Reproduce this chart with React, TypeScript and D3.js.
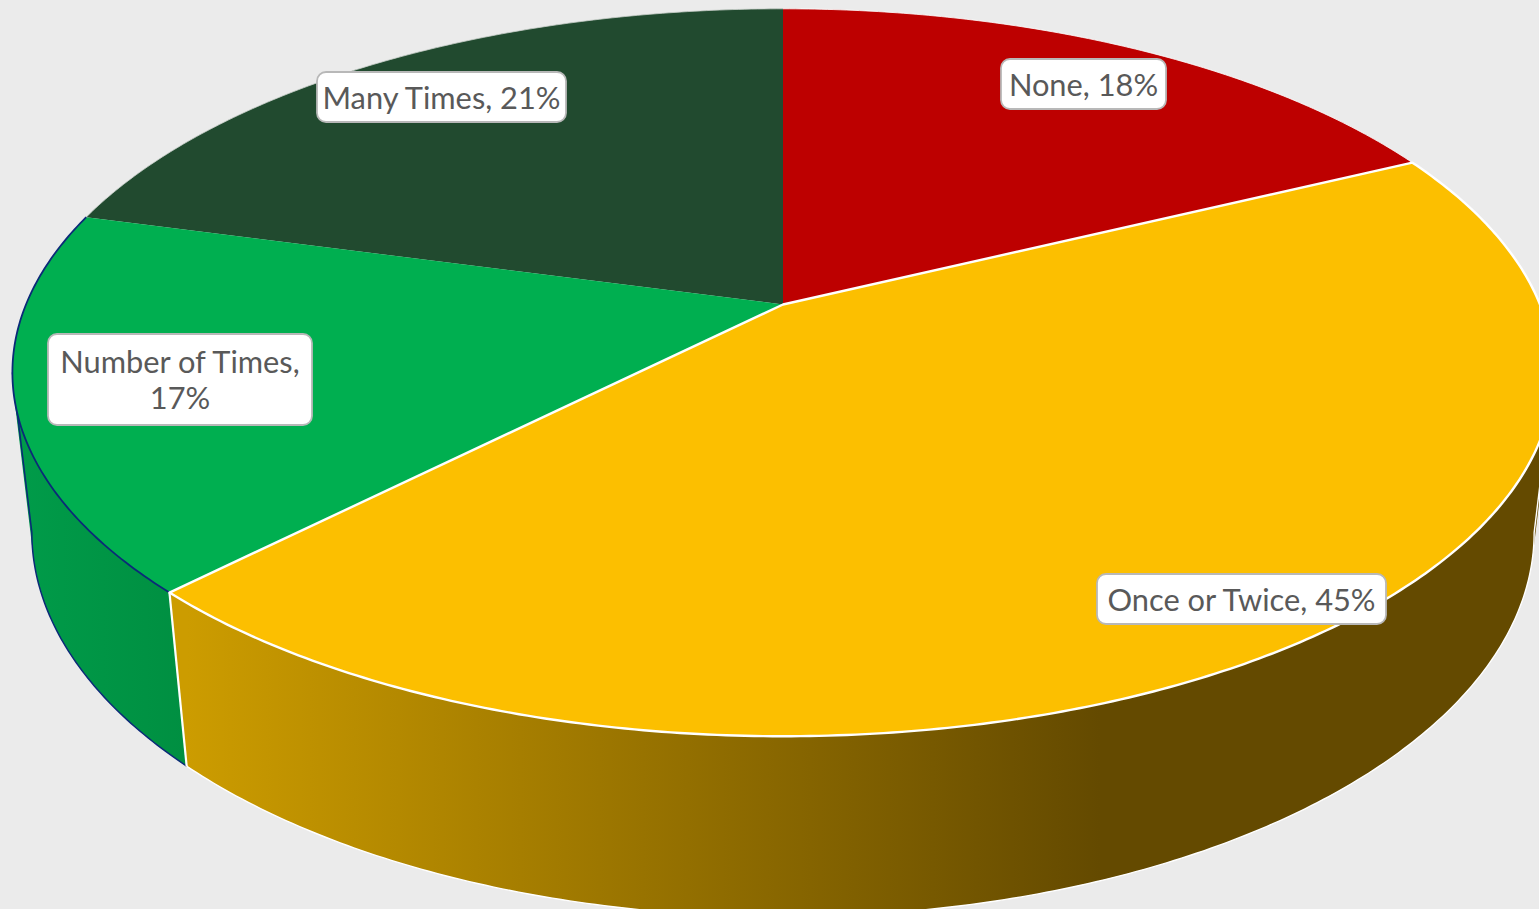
import React from 'react';
import * as d3 from 'd3';

const categories = ['None', 'Once or Twice', 'Number of Times', 'Many Times'];
const shares = [17.8, 44.6, 16.8, 20.8];
const wrappedCategories = ['Number of Times'];

const faceColors = ['#bd0000', '#fcbf00', '#00af50', '#214a2f'];
const rimColors = ['#ffffff', '#ffffff', '#0b2a78', '#c9cfca'];

const WIDTH = 1539;
const HEIGHT = 909;

// perspective of the disc, fitted to the rim
const CX = 783;
const CY = 304.5;
const SCALE_X = 757;
const SCALE_Y = 351;
const TILT = 0.187;
const DEPTH_W = 0.025;
const DEPTH_Y = 162;

const FONT = 'Lato, "Open Sans", sans-serif';

// label boxes [left, top, right, bottom]
const labelBoxes = [
  [1001, 59, 1166, 109],
  [1097, 574, 1386, 624],
  [48, 334, 312, 425],
  [317, 72, 566, 122],
];

const project = (theta: number, z: number): [number, number] => {
  const u = Math.sin(theta);
  const v = Math.cos(theta);
  const w = 1 + TILT * v + DEPTH_W * z;
  return [CX + (SCALE_X * u) / w, CY - (SCALE_Y * v - DEPTH_Y * z) / w];
};

const sweep = (from: number, to: number) => {
  const steps = Math.max(2, Math.ceil(Math.abs(to - from) / 0.01));
  return d3.range(steps + 1).map(i => from + ((to - from) * i) / steps);
};

const line = d3.line();

const arcPoints = (from: number, to: number, z: number) => sweep(from, to).map(t => project(t, z));

// union of small quads, all wound the same way, so the silhouette fills properly
const wallPath = (from: number, to: number) => {
  const angles = sweep(from, to);
  return d3.pairs(angles).map(([a, b]) => {
    const quad = [project(a, 0), project(b, 0), project(b, 1), project(a, 1)] as [number, number][];
    if (d3.polygonArea(quad) < 0) quad.reverse();
    return line(quad) + 'Z';
  }).join('');
};

const extremeAngle = (z: number) => Math.acos(-TILT / (1 + DEPTH_W * z));

const PieLabel: React.FC<{ index: number; lines: string[] }> = ({ index, lines }) => {
  const [x0, y0, x1, y1] = labelBoxes[index];
  const cx = (x0 + x1) / 2;
  const cy = (y0 + y1) / 2;
  return (
    <g>
      <rect x={x0} y={y0} width={x1 - x0} height={y1 - y0} rx={9} fill="#ffffff" stroke="#b8b8b8" strokeWidth={1.8} />
      {lines.map((l, i) => (
        <text
          key={l}
          x={cx}
          y={cy + 1 + (i - (lines.length - 1) / 2) * 36}
          dy="0.35em"
          textAnchor="middle"
          fontFamily={FONT}
          fontSize={30.8}
          fill="#595959"
        >
          {l}
        </text>
      ))}
    </g>
  );
};

export default function App() {
  const slices = d3.pie<number>().sort(null).startAngle(0).endAngle(2 * Math.PI)(shares);
  const [none, once, number, many] = slices;
  const center: [number, number] = [CX, CY];

  const facePath = (s: d3.PieArcDatum<number>) =>
    line([center, ...arcPoints(s.startAngle, s.endAngle, 0)]) + 'Z';

  const rightTop = extremeAngle(0);
  const rightBottom = extremeAngle(1);
  const leftTop = 2 * Math.PI - rightTop;
  const leftBottom = 2 * Math.PI - rightBottom;

  const labelLines = (i: number) => {
    const pct = `${Math.round(shares[i])}%`;
    return wrappedCategories.includes(categories[i])
      ? [`${categories[i]},`, pct]
      : [`${categories[i]}, ${pct}`];
  };

  return (
    <div style={{ position: 'absolute', left: 0, top: 0, width: WIDTH, height: HEIGHT, overflow: 'hidden' }}>
      <svg width={WIDTH} height={HEIGHT} style={{ display: 'block', background: '#ebebeb' }}>
        <defs>
          <linearGradient id="wallOnce" gradientUnits="userSpaceOnUse" x1={187} x2={1100} y1={0} y2={0}>
            <stop offset="0" stopColor="#cc9c00" />
            <stop offset="1" stopColor="#644a00" />
          </linearGradient>
          <linearGradient id="wallNumber" gradientUnits="userSpaceOnUse" x1={20} x2={187} y1={0} y2={0}>
            <stop offset="0" stopColor="#009b49" />
            <stop offset="1" stopColor="#008f41" />
          </linearGradient>
        </defs>

        <path d={wallPath(number.startAngle, leftTop + 0.02)} fill="url(#wallNumber)" />
        <path d={wallPath(rightTop - 0.02, once.endAngle)} fill="url(#wallOnce)" />

        {/* wall outlines */}
        <path
          d={line([...arcPoints(number.startAngle, leftBottom, 1), project(leftTop, 0)]) ?? ''}
          fill="none"
          stroke={rimColors[2]}
          strokeWidth={1.5}
        />
        <path
          d={line([project(rightTop, 0), ...arcPoints(rightBottom, once.endAngle, 1)]) ?? ''}
          fill="none"
          stroke={rimColors[1]}
          strokeWidth={1.4}
        />

        <path d={facePath(many)} fill={faceColors[3]} />
        <path d={facePath(number)} fill={faceColors[2]} />
        <path d={facePath(none)} fill={faceColors[0]} />
        <path d={line(arcPoints(many.startAngle, many.endAngle, 0)) ?? ''} fill="none" stroke={rimColors[3]} strokeWidth={0.8} />
        <path d={line(arcPoints(number.startAngle, number.endAngle, 0)) ?? ''} fill="none" stroke={rimColors[2]} strokeWidth={1.8} />
        <path d={line(arcPoints(none.startAngle, none.endAngle, 0)) ?? ''} fill="none" stroke={rimColors[0]} strokeWidth={0.8} />

        <path d={facePath(once)} fill={faceColors[1]} stroke={rimColors[1]} strokeWidth={2.4} strokeLinejoin="round" />
        <path d={line([project(once.endAngle, 0), project(once.endAngle, 1)]) ?? ''} stroke={rimColors[1]} strokeWidth={2.2} />

        {slices.map((s, i) => (
          <PieLabel key={categories[i]} index={i} lines={labelLines(i)} />
        ))}
      </svg>
    </div>
  );
}
